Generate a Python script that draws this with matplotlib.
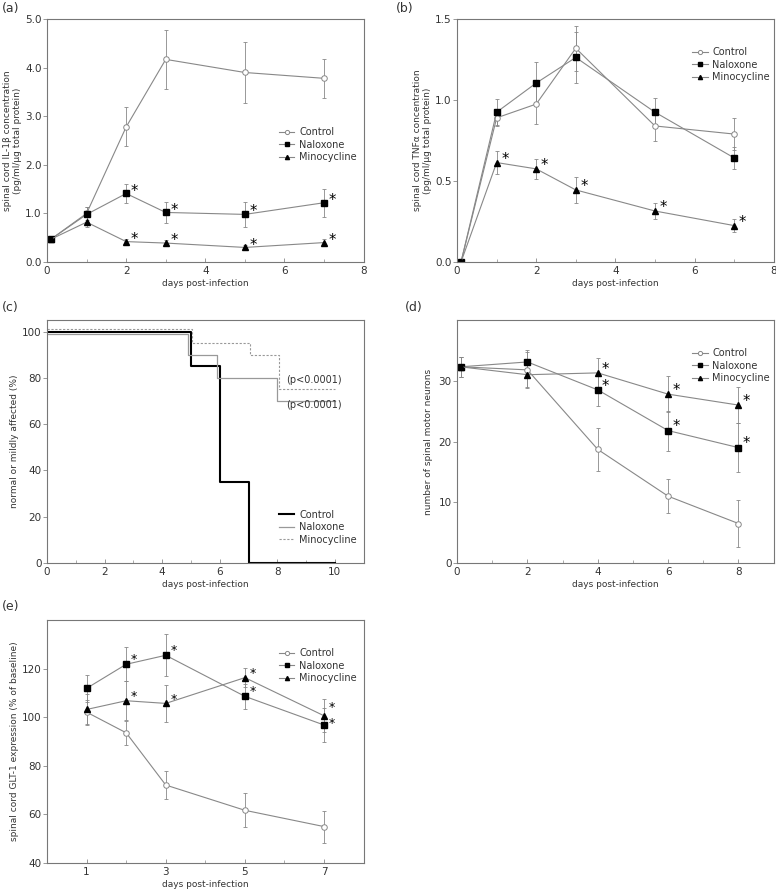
import matplotlib
matplotlib.use("Agg")
import matplotlib.pyplot as plt
from matplotlib.ticker import MultipleLocator

plt.rcParams['font.family'] = ['DejaVu Sans']
plt.rcParams['axes.edgecolor'] = '#777777'
plt.rcParams['axes.linewidth'] = 0.8

GRAY = '#888888'
TXT = '#333333'

# ---- (a) IL-1beta ----
a_days = [0.1, 1, 2, 3, 5, 7]
a_ctrl = [0.47, 1.00, 2.78, 4.17, 3.90, 3.78]
a_ctrl_err = [0.05, 0.14, 0.40, 0.60, 0.62, 0.40]
a_nal = [0.47, 0.98, 1.41, 1.02, 0.98, 1.22]
a_nal_err = [0.05, 0.15, 0.19, 0.21, 0.25, 0.29]
a_min = [0.47, 0.82, 0.42, 0.39, 0.30, 0.40]
a_min_err = [0.05, 0.10, 0.05, 0.07, 0.04, 0.08]
a_star_nal = [2, 3, 5, 7]
a_star_min = [2, 3, 5, 7]

# ---- (b) TNF-alpha ----
b_days = [0.1, 1, 2, 3, 5, 7]
b_ctrl = [0.0, 0.89, 0.975, 1.32, 0.84, 0.79]
b_ctrl_err = [0.0, 0.05, 0.12, 0.14, 0.09, 0.10]
b_nal = [0.0, 0.925, 1.105, 1.263, 0.925, 0.643]
b_nal_err = [0.0, 0.08, 0.13, 0.16, 0.09, 0.07]
b_min = [0.0, 0.614, 0.575, 0.445, 0.315, 0.225]
b_min_err = [0.0, 0.07, 0.06, 0.08, 0.05, 0.04]
b_star_min = [1, 2, 3, 5, 7]

# ---- (c) survival curves (step) ----
c_ctrl_t = [0, 5, 6, 7, 10]
c_ctrl_s = [100, 85, 35, 0, 0]
c_nal_t = [0, 4.9, 5.9, 8, 10]
c_nal_s = [99, 90, 80, 70, 70]
c_min_t = [0, 5.05, 7.05, 8.05, 10]
c_min_s = [101, 95, 90, 75, 75]
c_pvals = ['(p<0.0001)', '(p<0.0001)']

# ---- (d) motor neurons ----
d_days = [0.1, 2, 4, 6, 8]
d_ctrl = [32.3, 31.8, 18.7, 11.0, 6.5]
d_ctrl_err = [1.6, 3.0, 3.6, 2.8, 3.8]
d_nal = [32.3, 33.1, 28.5, 21.8, 19.0]
d_nal_err = [1.6, 1.9, 2.7, 3.3, 4.0]
d_min = [32.3, 31.0, 31.3, 27.8, 26.0]
d_min_err = [1.6, 2.0, 2.4, 3.0, 3.0]
d_star_nal = [4, 6, 8]
d_star_min = [4, 6, 8]

# ---- (e) GLT-1 ----
e_days = [1, 2, 3, 5, 7]
e_ctrl = [102.1, 93.6, 72.1, 61.7, 55.0]
e_ctrl_err = [5.0, 5.0, 5.8, 7.0, 6.6]
e_nal = [111.9, 121.8, 125.5, 108.6, 96.8]
e_nal_err = [5.6, 7.0, 8.6, 5.0, 7.0]
e_min = [103.2, 106.8, 105.7, 116.3, 100.6]
e_min_err = [6.4, 8.0, 7.7, 4.0, 6.8]
e_star_nal = [2, 3, 5, 7]
e_star_min = [2, 3, 5, 7]

fig = plt.figure(figsize=(7.76, 8.9), dpi=100)

W = 0.408
H = 0.273
ax_a = fig.add_axes([0.0606, 0.7056, W, H])
ax_b = fig.add_axes([0.589, 0.7056, W, H])
ax_c = fig.add_axes([0.0606, 0.3674, W, H])
ax_d = fig.add_axes([0.589, 0.3674, W, H])
ax_e = fig.add_axes([0.0606, 0.0303, W, H])


def style(ax):
    ax.tick_params(axis='x', direction='in', length=3, width=0.6, colors=GRAY,
                   labelcolor=TXT, labelsize=7.5, pad=3)
    ax.tick_params(axis='y', direction='out', length=3, width=0.6, colors=GRAY,
                   labelcolor=TXT, labelsize=7.5, pad=1)
    ax.tick_params(which='minor', axis='x', direction='in', length=2, width=0.5, colors=GRAY)
    ax.tick_params(which='minor', axis='y', length=0)
    ax.set_xlabel('days post-infection', fontsize=6.5, color=TXT, labelpad=2)


def series(ax, x, sets, nal_x, min_x, yoff, xoff=0.12, star_fs=10.5,
           nal_adj=None, min_adj=None):
    (c, ce), (n, ne), (m, me) = sets
    nal_adj = nal_adj or {}
    min_adj = min_adj or {}
    ekw = dict(fmt='none', ecolor=GRAY, elinewidth=0.6, capsize=1.5, capthick=0.6)
    ax.errorbar(x, c, yerr=ce, **ekw)
    ax.errorbar(x, n, yerr=ne, **ekw)
    ax.errorbar(x, m, yerr=me, **ekw)
    ax.plot(x, c, color=GRAY, lw=0.8, marker='o', ms=4, mfc='white', mec=GRAY,
            mew=0.7, label='Control')
    ax.plot(x, n, color=GRAY, lw=0.8, marker='s', ms=4, mfc='black', mec='black',
            label='Naloxone')
    ax.plot(x, m, color=GRAY, lw=0.8, marker='^', ms=4, mfc='black', mec='black',
            label='Minocycline')
    for xs in nal_x:
        ax.text(xs + xoff, n[list(x).index(xs)] + nal_adj.get(xs, yoff), '*',
                fontsize=star_fs, ha='left', va='center', color='black')
    for xs in min_x:
        ax.text(xs + xoff, m[list(x).index(xs)] + min_adj.get(xs, yoff), '*',
                fontsize=star_fs, ha='left', va='center', color='black')


def legend(ax, loc, anchor):
    lg = ax.legend(loc=loc, bbox_to_anchor=anchor, frameon=False, fontsize=7,
                   handlelength=1.6, handletextpad=0.5, labelspacing=0.25,
                   borderaxespad=0, markerscale=0.75)
    for t in lg.get_texts():
        t.set_color(TXT)
    return lg


# (a)
series(ax_a, a_days, [(a_ctrl, a_ctrl_err), (a_nal, a_nal_err), (a_min, a_min_err)],
       a_star_nal, a_star_min, 0.05)
ax_a.set_xlim(0, 8)
ax_a.set_ylim(0, 5)
ax_a.xaxis.set_major_locator(MultipleLocator(2))
ax_a.xaxis.set_minor_locator(MultipleLocator(1))
ax_a.set_yticks([0, 1, 2, 3, 4, 5])
ax_a.set_yticklabels(['0.0', '1.0', '2.0', '3.0', '4.0', '5.0'])
style(ax_a)
ax_a.set_ylabel('spinal cord IL-1\u03b2 concentration\n(pg/ml/\u03bcg total protein)',
                fontsize=6.5, color=TXT, labelpad=2)
legend(ax_a, 'upper left', (0.72, 0.57))

# (b)
series(ax_b, b_days, [(b_ctrl, b_ctrl_err), (b_nal, b_nal_err), (b_min, b_min_err)],
       [], b_star_min, 0.02)
ax_b.set_xlim(0, 8)
ax_b.set_ylim(0, 1.5)
ax_b.xaxis.set_major_locator(MultipleLocator(2))
ax_b.xaxis.set_minor_locator(MultipleLocator(1))
ax_b.set_yticks([0, 0.5, 1.0, 1.5])
ax_b.set_yticklabels(['0.0', '0.5', '1.0', '1.5'])
style(ax_b)
ax_b.set_ylabel('spinal cord TNF\u03b1 concentration\n(pg/ml/\u03bcg total protein)',
                fontsize=6.5, color=TXT, labelpad=2)
legend(ax_b, 'upper left', (0.73, 0.9))

# (c)
ax_c.step(c_ctrl_t, c_ctrl_s, where='post', color='black', lw=1.5, label='Control')
ax_c.step(c_nal_t, c_nal_s, where='post', color='#999999', lw=0.9, label='Naloxone')
ax_c.step(c_min_t, c_min_s, where='post', color='#999999', lw=0.8, ls=(0, (2, 1.5)),
          label='Minocycline')
ax_c.text(8.3, 79, c_pvals[0], fontsize=7, color=TXT, va='center')
ax_c.text(8.3, 68.4, c_pvals[1], fontsize=7, color=TXT, va='center')
ax_c.set_xlim(0, 11)
ax_c.set_ylim(0, 105)
ax_c.set_xticks([0, 2, 4, 6, 8, 10])
ax_c.xaxis.set_minor_locator(MultipleLocator(1))
ax_c.set_yticks([0, 20, 40, 60, 80, 100])
style(ax_c)
ax_c.set_ylabel('normal or mildly affected (%)', fontsize=6.5, color=TXT, labelpad=2)
legend(ax_c, 'lower left', (0.72, 0.06))

# (d)
series(ax_d, d_days, [(d_ctrl, d_ctrl_err), (d_nal, d_nal_err), (d_min, d_min_err)],
       d_star_nal, d_star_min, 0.6)
ax_d.set_xlim(0, 9)
ax_d.set_ylim(0, 40)
ax_d.set_xticks([0, 2, 4, 6, 8])
ax_d.xaxis.set_minor_locator(MultipleLocator(1))
ax_d.set_yticks([0, 10, 20, 30])
style(ax_d)
ax_d.set_ylabel('number of spinal motor neurons', fontsize=6.5, color=TXT, labelpad=4)
legend(ax_d, 'upper left', (0.73, 0.9))

# (e) - the two asterisks at day 7 sit close together, nudge them apart a bit
series(ax_e, e_days, [(e_ctrl, e_ctrl_err), (e_nal, e_nal_err), (e_min, e_min_err)],
       e_star_nal, e_star_min, 1.8, star_fs=9,
       nal_adj={7: 0.6}, min_adj={7: 3.6})
ax_e.set_xlim(0, 8)
ax_e.set_ylim(40, 140)
ax_e.set_xticks([1, 3, 5, 7])
ax_e.xaxis.set_minor_locator(MultipleLocator(1))
ax_e.set_yticks([40, 60, 80, 100, 120])
style(ax_e)
ax_e.set_ylabel('spinal cord GLT-1 expression (% of baseline)', fontsize=6.5,
                color=TXT, labelpad=2)
legend(ax_e, 'upper left', (0.72, 0.9))

# panel letters
for lab, x, y in [('(a)', 0.002, 0.99), ('(b)', 0.51, 0.99), ('(c)', 0.002, 0.655),
                  ('(d)', 0.522, 0.654), ('(e)', 0.002, 0.318)]:
    fig.text(x, y, lab, fontsize=9, color=TXT, ha='left', va='center')

fig.savefig('out.png', dpi=100)
